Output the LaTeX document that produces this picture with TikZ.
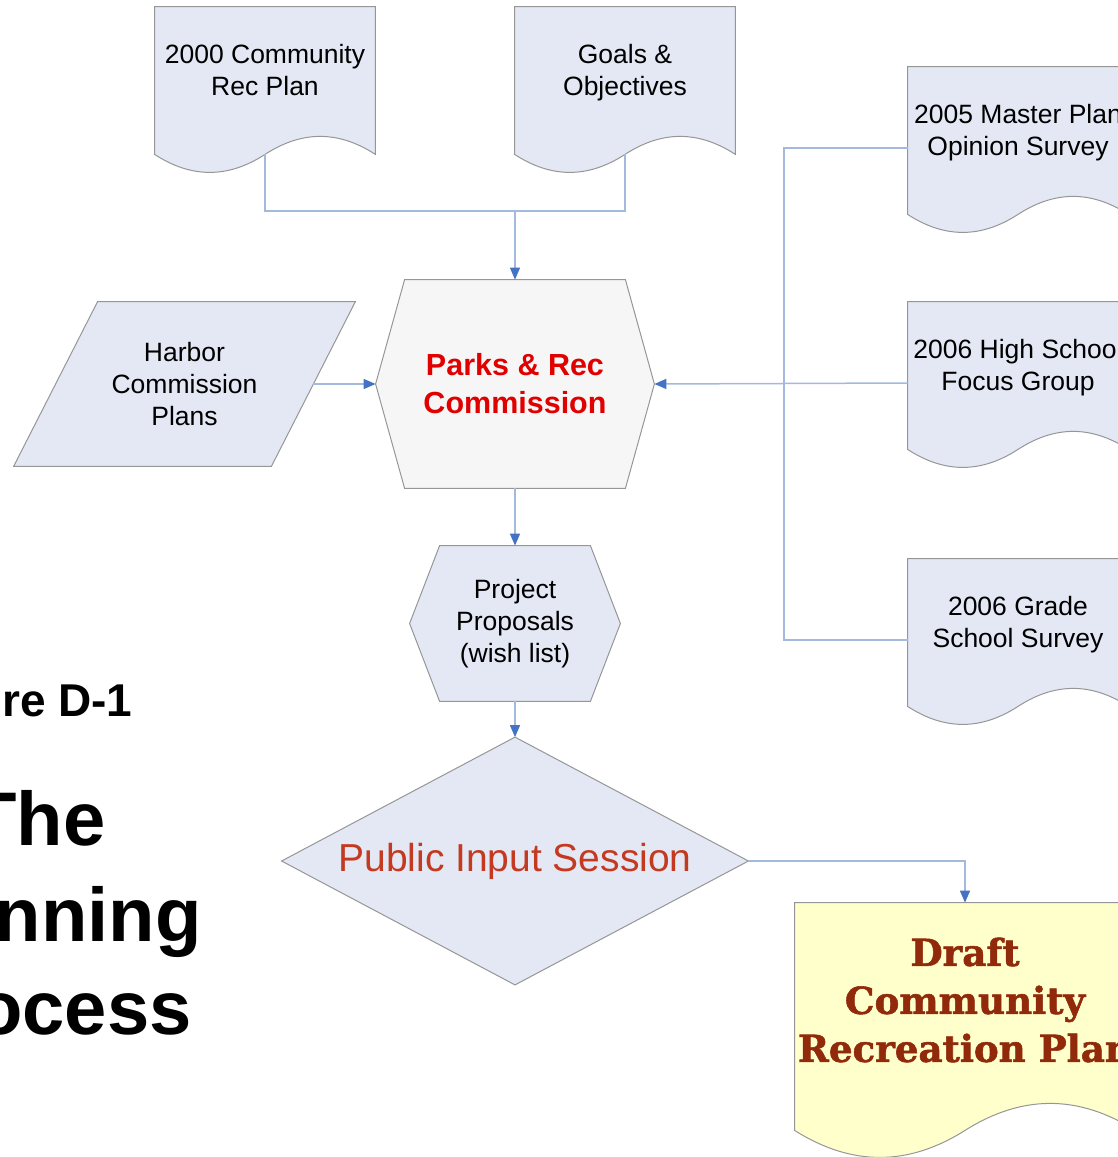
\documentclass[tikz,border=0pt]{standalone}
\usepackage{fontspec}
\setmainfont{Liberation Sans}
\newfontfamily\slabfont[BoldFeatures={FakeBold=1.5}]{DejaVu Serif}
\usetikzlibrary{arrows.meta,backgrounds,calc}

\definecolor{docblue}{RGB}{227,232,244}
\definecolor{hexgray}{RGB}{246,246,246}
\definecolor{rimgray}{RGB}{150,150,150}
\definecolor{connblue}{RGB}{165,185,222}
\definecolor{tipblue}{RGB}{68,114,196}
\definecolor{draftyellow}{RGB}{255,255,204}
\definecolor{draftbrown}{RGB}{145,42,10}
\definecolor{sessionred}{RGB}{196,58,32}
\definecolor{parksred}{RGB}{225,0,0}

\tikzset{
  box/.style={inner sep=0pt, align=center, font=\fontsize{13.25}{16}\selectfont},
  docbox/.style={box, minimum width=110pt, minimum height=68pt,
    execute at begin node=\strut, execute at end node=\strut},
  rim/.style={draw=rimgray, line width=0.5pt},
  conn/.style={draw=connblue, line width=0.75pt},
  flow/.style={conn, -{Triangle[length=6pt,width=5pt,color=tipblue]}},
  title/.style={anchor=base east, inner sep=0pt, font=\bfseries\fontsize{38}{44}\selectfont}
}

\newcommand\docrim[5]{%
  \path[rim, fill=#2] (#1.north west) -- (#1.north east) -- ([yshift=-#3]#1.south east)
    .. controls +(-#4,-#5) and +(#4,-#5) .. ([yshift=-#3]#1.south)
    .. controls +(-#4,#5) and +(#4,#5) .. ([yshift=-#3]#1.south west) -- cycle;
  \coordinate (#1-b) at ([yshift=-#3]#1.south);}
\newcommand\hexrim[3]{%
  \path[rim, fill=#2] ([xshift=#3]#1.north west) -- ([xshift=-#3]#1.north east) -- (#1.east)
    -- ([xshift=-#3]#1.south east) -- ([xshift=#3]#1.south west) -- (#1.west) -- cycle;}

\begin{document}
\begin{tikzpicture}[x=0.5pt, y=-0.5pt]
  \useasboundingbox (0,0) rectangle (1118,1157);
  \clip (0,0) rectangle (1118,1157);

  \node[docbox] (recplan) at (265,75) {2000 Community\\Rec Plan};
  \node[docbox] (goals) at (625,75) {Goals \&\\Objectives};
  \node[docbox] (opinion) at (1018,135) {2005 Master Plan\\Opinion Survey};
  \node[docbox] (focus) at (1018,370) {2006 High School\\Focus Group};
  \node[docbox] (grade) at (1018,627) {2006 Grade\\School Survey};
  \node[box, minimum width=128.5pt, minimum height=82pt] (harbor) at (184.5,384) {Harbor\\Commission\\Plans};
  \node[box, minimum width=139pt, minimum height=104pt, text=parksred,
    font=\bfseries\fontsize{15.25}{19}\selectfont] (parks) at (515,384) {Parks \& Rec\\Commission};
  \node[box, minimum width=105pt, minimum height=77.5pt] (proposals) at (515,623.5) {Project\\Proposals\\(wish list)};
  \node[box, minimum width=233pt, minimum height=123.5pt, text=sessionred,
    font=\fontsize{19.5}{23}\selectfont] (session) at (515,861) {Public Input Session};
  \node[box, minimum width=170pt, minimum height=97pt, text=draftbrown,
    font=\slabfont\bfseries\fontsize{18.6}{24}\selectfont] (draft) at (965,1000) {Draft\\Community\\Recreation Plan};

  \node[title, font=\bfseries\fontsize{23}{28}\selectfont] (figno) at (133,716) {Figure D-1};
  \node[title] (the) at (106,845) {The};
  \node[title] (planning) at (202,941) {Planning};
  \node[title] (process) at (192,1034) {Process};

  \begin{pgfonlayer}{background}
    \clip (0,0) rectangle (1118,1157);
    \foreach \d in {recplan,goals,opinion,focus,grade} {\docrim{\d}{docblue}{5.5pt}{37}{24}}
    \docrim{draft}{draftyellow}{16.5pt}{57}{36}
    \hexrim{parks}{hexgray}{14.5pt}
    \hexrim{proposals}{docblue}{15pt}
    \path[rim, fill=docblue] ([xshift=21pt]harbor.north west) -- ([xshift=21pt]harbor.north east)
      -- ([xshift=-21pt]harbor.south east) -- ([xshift=-21pt]harbor.south west) -- cycle;
    \path[rim, fill=docblue] (session.north) -- (session.east) -- (session.south) -- (session.west) -- cycle;
  \end{pgfonlayer}

  \coordinate (merge) at (515,211);
  \coordinate (spine) at (784,384);
  \draw[conn] (recplan-b) |- (merge);
  \draw[conn] (goals-b) |- (merge);
  \draw[flow] (merge) -- (parks.north);
  \draw[flow] (harbor.east) -- (parks.west);
  \draw[conn] ([yshift=-6.5pt]opinion.west) -| (spine) |- ([yshift=-6.5pt]grade.west);
  \draw[flow] ([yshift=-6.5pt]focus.west) -- (parks.east);
  \draw[flow] (parks.south) -- (proposals.north);
  \draw[flow] (proposals.south) -- (session.north);
  \draw[flow] (session.east) -| (draft.north);
\end{tikzpicture}
\end{document}
